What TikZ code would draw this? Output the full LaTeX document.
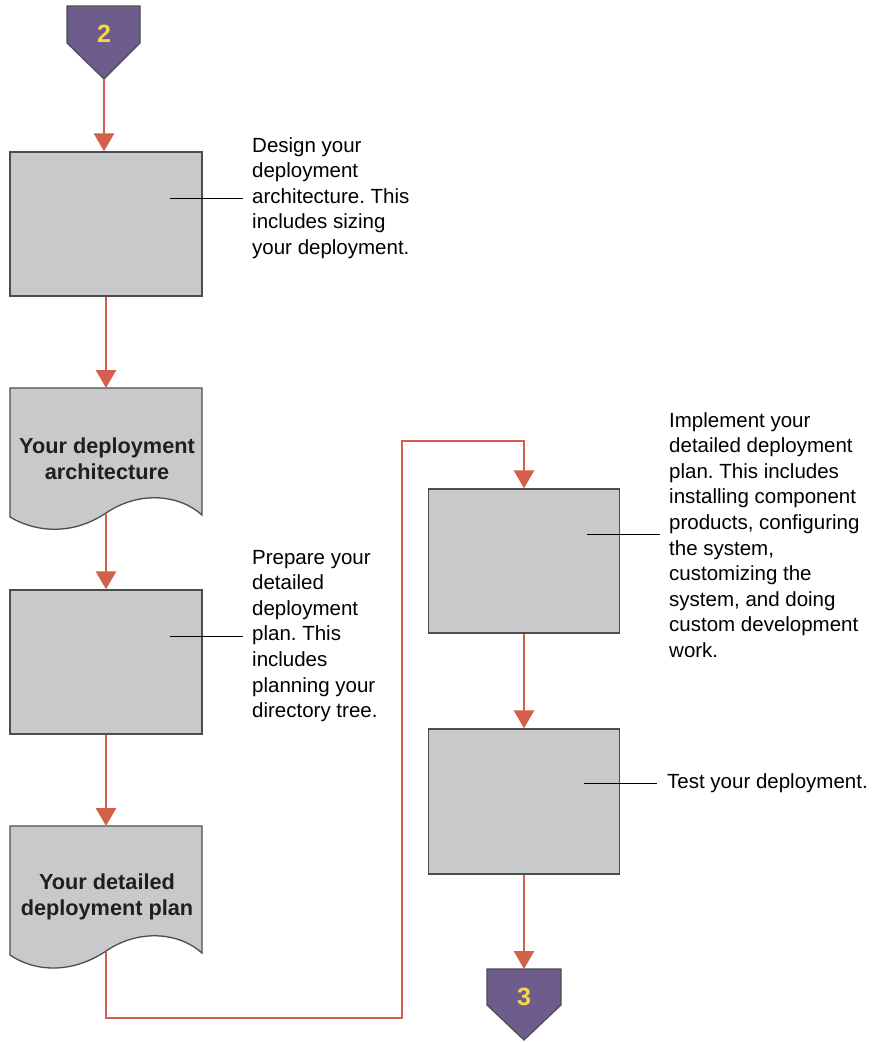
\documentclass[tikz,border=0pt]{standalone}
\usepackage{fontspec}
\setmainfont{Liberation Sans}
\usetikzlibrary{arrows.meta}
\definecolor{boxgray}{HTML}{C8C9CB}
\definecolor{edgegray}{HTML}{4D4D4F}
\definecolor{flowred}{HTML}{D2604A}
\definecolor{badgepurple}{HTML}{6D5C8C}
\definecolor{badgeyellow}{HTML}{F8D648}
\frenchspacing
\begin{document}
\begin{tikzpicture}[x=1pt,y=-1pt,
 stepbox/.style={draw=edgegray,fill=boxgray,line width=1.3pt,minimum width=192pt,minimum height=144pt,inner sep=0pt},
 docshape/.style={draw=edgegray,fill=boxgray,line width=1.3pt},
 flow/.style={draw=flowred,line width=2.8pt,-{Triangle[width=20pt,length=18pt]}},
 callout/.style={draw=black,line width=1pt},
 note/.style={anchor=west,align=left,inner sep=0pt,font=\fontsize{20.5}{25.6}\selectfont},
 doclabel/.style={align=center,inner sep=0pt,text=black!88,font=\fontsize{21.7}{26}\selectfont\bfseries},
 badge/.style={draw=edgegray,fill=badgepurple,line width=1.2pt},
 badgetext/.style={text=badgeyellow,inner sep=0pt,font=\fontsize{25}{25}\selectfont\bfseries}]
\useasboundingbox (0,0) rectangle (874,1042);

% badge 2
\draw[badge] (67,6) -- (140,6) -- (140,43) -- (104,79) -- (67,43) -- cycle;
\coordinate (b2tip) at (104,79);
\node[badgetext] (b2) at (104,34) {2};

% step boxes
\node[stepbox] (s1) at (106,224) {};
\node[stepbox] (s2) at (106,662) {};
\node[stepbox, minimum width=191pt] (s3) at (524,561) {};
\node[stepbox, minimum width=191pt, minimum height=145pt] (s4) at (524,801.5) {};

% document 1
\draw[docshape] (10,388) -- (202,388) -- (202,515)
  .. controls (180,495) and (140,490) .. (106,513)
  .. controls (72,536) and (35,532) .. (10,517) -- cycle;
\coordinate (d1t) at (106,388);
\coordinate (d1b) at (106,513);
\node[doclabel] (d1) at (107,459) {Your deployment\\architecture};

% document 2
\draw[docshape] (10,826) -- (202,826) -- (202,953)
  .. controls (180,933) and (140,928) .. (106,951)
  .. controls (72,974) and (35,972) .. (10,955) -- cycle;
\coordinate (d2t) at (106,826);
\coordinate (d2b) at (106,951);
\node[doclabel] (d2) at (107,897) {Your detailed\\deployment plan};

% badge 3
\draw[badge] (487,969) -- (561,969) -- (561,1005) -- (524,1040) -- (487,1005) -- cycle;
\coordinate (b3top) at (524,969);
\node[badgetext] (b3) at (524,997) {3};

% flow connectors
\draw[flow] (b2tip) -- (b2tip |- s1.north);
\draw[flow] (s1.south) -- (d1t);
\draw[flow] (d1b) -- (s2.north);
\draw[flow] (s2.south) -- (d2t);
\draw[flow] (d2b) -- (106,1018) -| (402,441) -| (s3.north);
\draw[flow] (s3.south) -- (s4.north);
\draw[flow] (s4.south) -- (b3top);

% notes and callouts
\node[note] (t1) at (252,198) {Design your\\deployment\\architecture. This\\includes sizing\\your deployment.};
\coordinate (c1a) at (170,198);
\coordinate (c1b) at (243,198);
\draw[callout] (c1a) -- (c1b);

\node[note] (t2) at (252,636) {Prepare your\\detailed\\deployment\\plan. This\\includes\\planning your\\directory tree.};
\coordinate (c2a) at (170,636);
\coordinate (c2b) at (243,636);
\draw[callout] (c2a) -- (c2b);

\node[note] (t3) at (669,535) {Implement your\\detailed deployment\\plan. This includes\\installing component\\products, configuring\\the system,\\customizing the\\system, and doing\\custom development\\work.};
\coordinate (c3a) at (587,534);
\coordinate (c3b) at (660,534);
\draw[callout] (c3a) -- (c3b);

\node[note] (t4) at (667,783) {Test your deployment.};
\coordinate (c4a) at (584,783);
\coordinate (c4b) at (657,783);
\draw[callout] (c4a) -- (c4b);
\end{tikzpicture}
\end{document}
